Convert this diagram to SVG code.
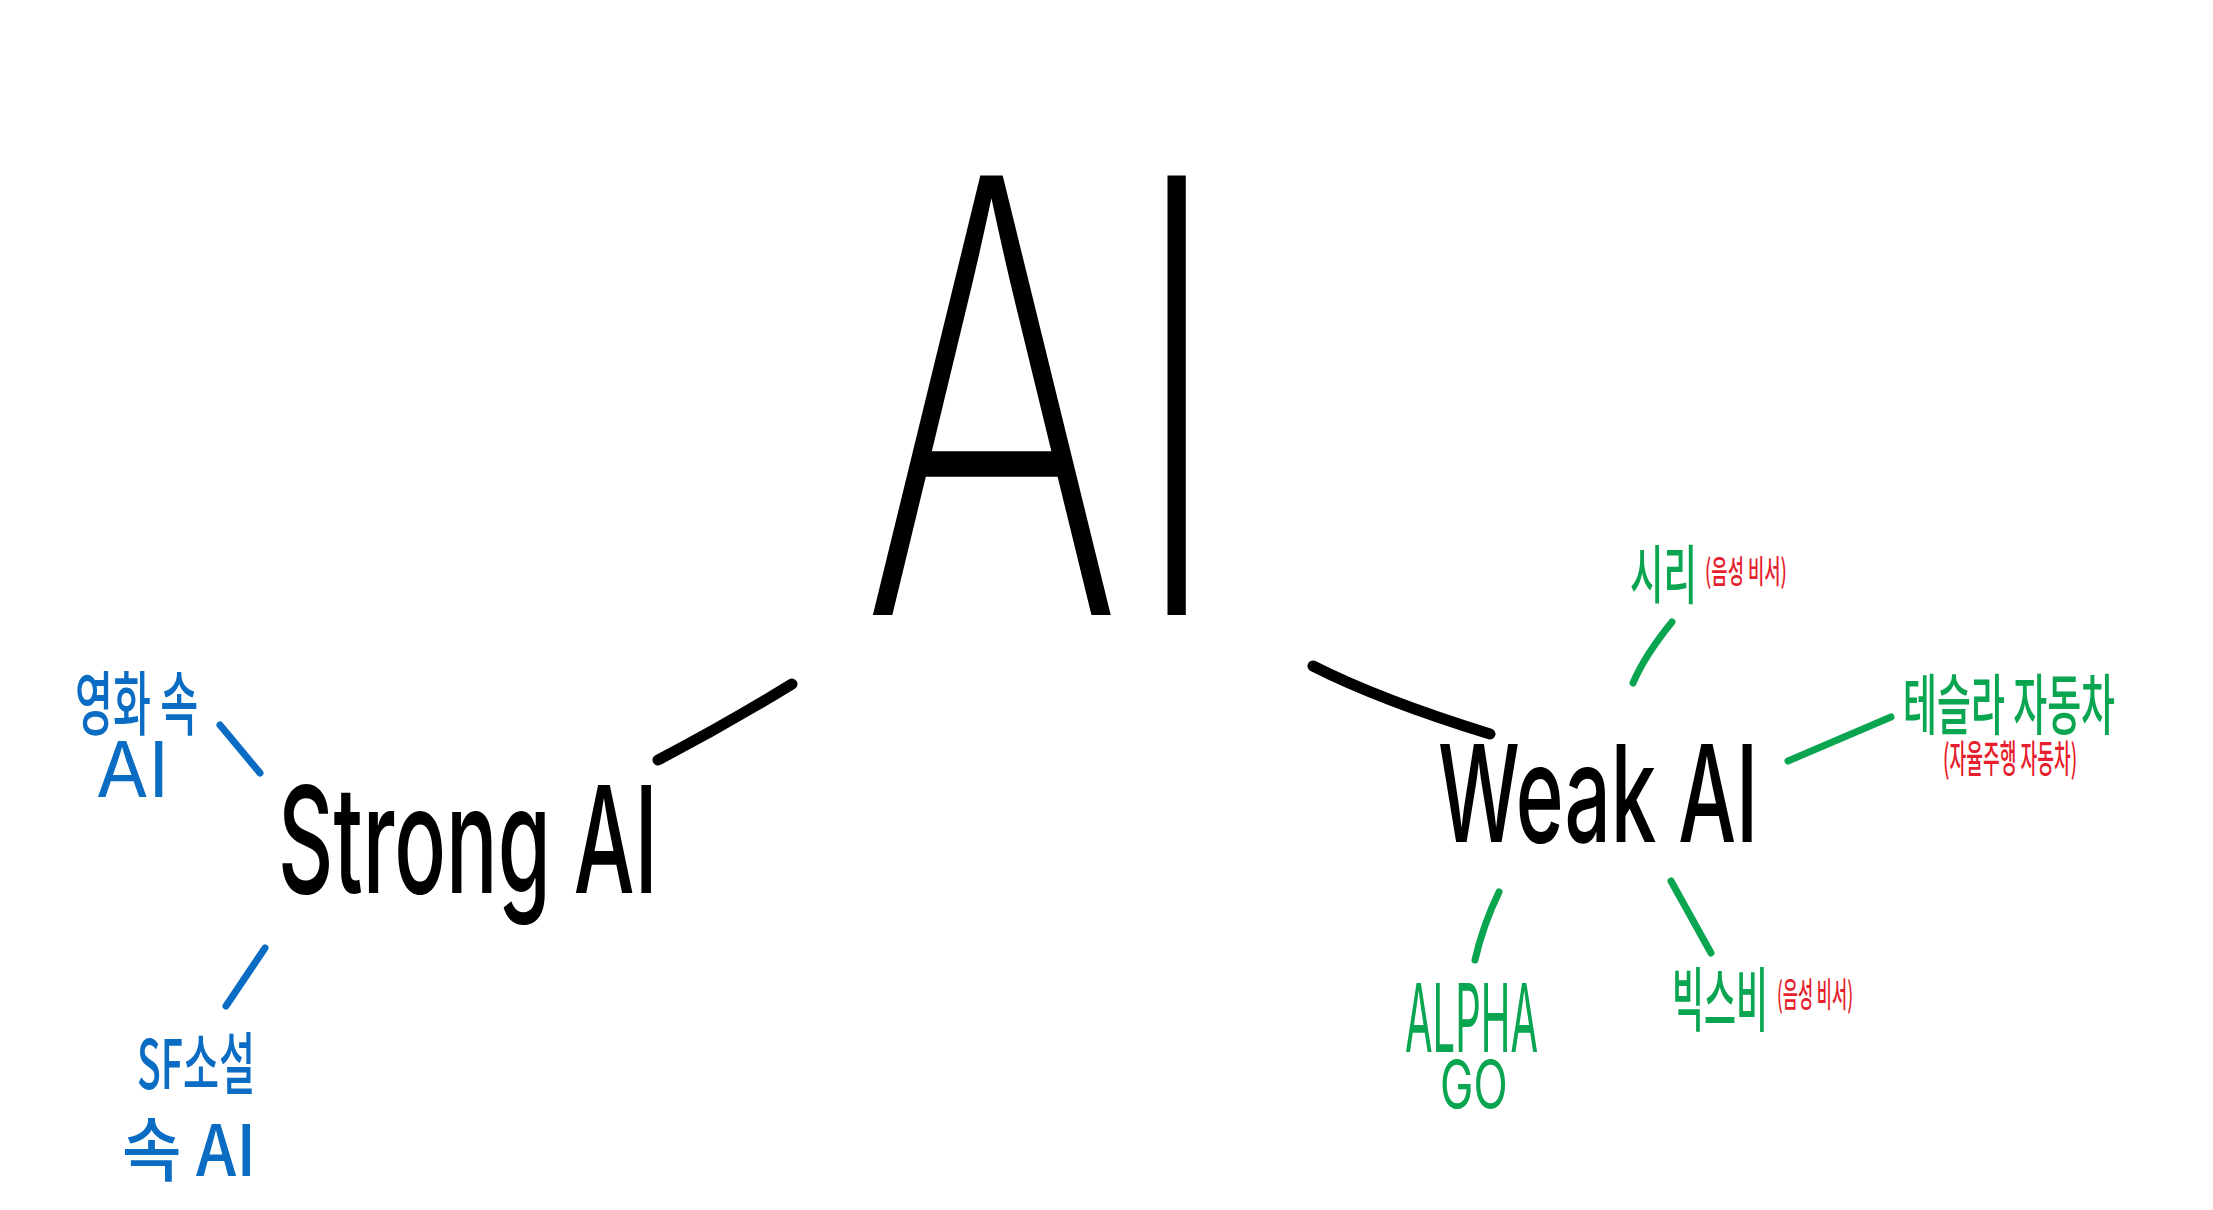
<svg xmlns="http://www.w3.org/2000/svg" width="2213" height="1210" viewBox="0 0 2213 1210">
<style>
.t{font-family:"Inter","Noto Sans CJK KR","Noto Sans",sans-serif;}
.k{font-family:"Noto Sans CJK KR","Noto Sans",sans-serif;font-weight:500;}
.blk{fill:#000;}
.blu{fill:#0a6cc2;}
.grn{fill:#0aa550;}
.red{fill:#e61e2d;}
.ln{fill:none;stroke-linecap:round;}
.lb{stroke:#000;stroke-width:11;}
.lu{stroke:#0a6cc2;stroke-width:7;}
.lg{stroke:#0aa550;stroke-width:7;}
</style>
<rect width="2213" height="1210" fill="#fff"/>
<g id="connectors">
<path class="ln lb" d="M658,760 Q725,725 792,684"/>
<path class="ln lb" d="M1313,666 Q1380,700 1490,734"/>
<path class="ln lu" d="M220,725 L260,773"/>
<path class="ln lu" d="M265,948 L226,1006"/>
<path class="ln lg" d="M1633,683 Q1645,655 1672,622"/>
<path class="ln lg" d="M1788,761 L1891,717"/>
<path class="ln lg" d="M1671,881 L1711,953"/>
<path class="ln lg" d="M1499,892 Q1483,925 1475,960"/>
</g>
<g id="ai">
<text class="t blk" transform="matrix(0.66 0 0 1 861 615)" font-size="604" font-weight="250" x="0 401">AI</text>
</g>
<g id="strong-ai">
<text class="t blk" transform="matrix(0.58 0 0 1 278 893)" font-size="148" font-weight="500" textLength="655" lengthAdjust="spacingAndGlyphs">Strong AI</text>
</g>
<g id="weak-ai">
<text class="t blk" transform="matrix(0.61 0 0 1 1438 842)" font-size="135" font-weight="500" textLength="525" lengthAdjust="spacingAndGlyphs">Weak AI</text>
</g>
<g id="movie-ai">
<text class="k blu" transform="matrix(0.545 0 0 1 75 730)" font-size="70" textLength="226" lengthAdjust="spacingAndGlyphs">영화 속</text>
<text class="t blu" x="96" y="797" font-size="77" font-weight="400" textLength="73" lengthAdjust="spacingAndGlyphs">AI</text>
</g>
<g id="sf-ai">
<text class="k blu" transform="matrix(0.565 0 0 1 137 1089)" font-size="68" textLength="209" lengthAdjust="spacingAndGlyphs">SF소설</text>
<text class="k blu" transform="matrix(0.9 0 0 1 122 1176)" font-size="70" textLength="149" lengthAdjust="spacingAndGlyphs">속 AI</text>
</g>
<g id="siri">
<text class="k grn" transform="matrix(0.52 0 0 1 1630 598)" font-size="64" textLength="129" lengthAdjust="spacingAndGlyphs">시리</text>
<text class="k red" transform="matrix(0.525 0 0 1 1705 583)" font-size="32" textLength="156" lengthAdjust="spacingAndGlyphs">(음성 비서)</text>
</g>
<g id="tesla">
<text class="k grn" transform="matrix(0.516 0 0 1 1903 729)" font-size="66" textLength="411" lengthAdjust="spacingAndGlyphs">테슬라 자동차</text>
<text class="k red" transform="matrix(0.447 0 0 1 1943 772)" font-size="38" textLength="300" lengthAdjust="spacingAndGlyphs">(자율주행 자동차)</text>
</g>
<g id="bixby">
<text class="k grn" transform="matrix(0.457 0 0 1 1672 1026)" font-size="70" textLength="210" lengthAdjust="spacingAndGlyphs">빅스비</text>
<text class="k red" transform="matrix(0.458 0 0 1 1777 1007)" font-size="34" textLength="166" lengthAdjust="spacingAndGlyphs">(음성 비서)</text>
</g>
<g id="alphago">
<text class="t grn" transform="matrix(0.425 0 0 1 1405 1052)" font-size="95" font-weight="400" textLength="313" lengthAdjust="spacingAndGlyphs">ALPHA</text>
<text class="t grn" transform="matrix(0.69 0 0 1 1440 1108)" font-size="66" font-weight="400" textLength="98" lengthAdjust="spacingAndGlyphs">GO</text>
</g>
</svg>
